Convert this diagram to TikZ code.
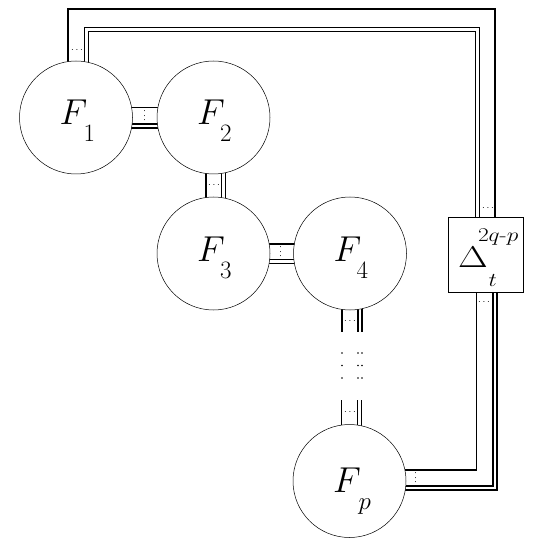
\RequirePackage{fix-cm}
\documentclass[tikz,border=0pt]{standalone}
\usepackage{graphicx}
\pgfdeclarelayer{bg}
\pgfsetlayers{bg,main}
\newcommand\flab[3]{\makebox[0pt][l]{\raisebox{-#2}[0pt][0pt]{%
  \makebox[0pt][l]{\hspace*{-16.5pt}\fontsize{36}{36}\selectfont$F$}%
  \makebox[0pt][l]{\hspace*{#3}\raisebox{-17pt}{\fontsize{25}{25}\selectfont$#1$}}}}}
\newcommand\dlab{\makebox[0pt][l]{\raisebox{-13pt}[0pt][0pt]{%
  \makebox[0pt][l]{\hspace*{-27.5pt}\scalebox{1.28}[1]{\fontsize{30}{30}\selectfont$\Delta$}}%
  \makebox[0pt][l]{\hspace*{-7.5pt}\raisebox{26.5pt}{\scalebox{1.2}[1]{\fontsize{19.5}{19.5}\selectfont$2q$-$p$}}}%
  \makebox[0pt][l]{\hspace*{3pt}\raisebox{-18.5pt}{\scalebox{1.2}[1]{\fontsize{19.5}{19.5}\selectfont$t$}}}}}}
\tikzset{
  tn/.style={circle, draw=black, line width=0.5pt, fill=white, minimum size=113pt, inner sep=0pt},
  tbox/.style={rectangle, draw=black, line width=0.6pt, fill=white, minimum size=75pt, inner sep=0pt},
  sleg/.style={line width=1.4pt},
  dleg/.style={line width=1.5pt, double=white, double distance=2.5pt},
  dotlab/.style={inner sep=0pt, font=\fontsize{10}{10}\selectfont},
  gapdot/.style={circle, fill=black, inner sep=0pt, minimum size=1.7pt},
}
\begin{document}
\begin{tikzpicture}[x=1pt,y=-1pt]
\useasboundingbox (0,0) rectangle (545,545);
\node[tn] (F1) at (76,117.5) {\flab{1}{7.5pt}{7.5pt}};
\node[tn] (F2) at (213.5,117.5) {\flab{2}{7.5pt}{6.5pt}};
\node[tn] (F3) at (213.5,253.5) {\flab{3}{8pt}{6.5pt}};
\node[tn] (F4) at (350,253.5) {\flab{4}{8pt}{6.5pt}};
\node[tn] (Fp) at (349.5,481) {\flab{p}{11pt}{9pt}};
\node[tbox] (D) at (485.5,254.5) {\dlab};
\coordinate (gT) at ([yshift=-78.5pt]F4.center);
\coordinate (gB) at ([yshift=81pt]Fp.center);
\coordinate (ts1) at (68,9);
\coordinate (ts2) at (495,9);
\coordinate (td1) at (86.5,29.5);
\coordinate (td2) at (477.5,29.5);
\coordinate (bs) at (476.5,470);
\coordinate (bd) at (495,488);
\begin{pgfonlayer}{bg}
  % F1 -- F2
  \draw[sleg] ([yshift=10pt]F1.center) -- ([yshift=10pt]F2.center);
  \draw[dleg] ([yshift=-8.5pt]F1.center) -- ([yshift=-8.5pt]F2.center);
  % F2 -- F3
  \draw[sleg] ([xshift=-7.5pt]F2.center) -- ([xshift=-7.5pt]F3.center);
  \draw[dleg] ([xshift=10pt]F2.center) -- ([xshift=10pt]F3.center);
  % F3 -- F4
  \draw[sleg] ([yshift=9.5pt]F3.center) -- ([yshift=9.5pt]F4.center);
  \draw[dleg] ([yshift=-8pt]F3.center) -- ([yshift=-8pt]F4.center);
  % F4 -- gap -- Fp
  \draw[sleg] ([xshift=-8pt]F4.center) -- ([xshift=-8pt]gT);
  \draw[dleg] ([xshift=10pt]F4.center) -- ([xshift=10pt]gT);
  \draw[sleg] ([xshift=-8pt]gB) -- ([xshift=-8pt]Fp.center);
  \draw[dleg] ([xshift=10pt]gB) -- ([xshift=10pt]Fp.center);
  % F1 -- Delta (top loop)
  \draw[sleg] ([xshift=-8pt]F1.center) -- (ts1) -- (ts2) -- ([xshift=9.5pt]D.center);
  \draw[dleg] ([xshift=10.5pt]F1.center) -- (td1) -- (td2) -- ([xshift=-8pt]D.center);
  % Delta -- Fp (bottom loop)
  \draw[sleg] ([xshift=-9pt]D.center) -- (bs) -- ([yshift=11pt]Fp.center);
  \draw[dleg] ([xshift=9.5pt]D.center) -- (bd) -- ([yshift=-7pt]Fp.center);
\end{pgfonlayer}
% index-bundle labels
\node[dotlab] (l1) at (77,50) {$\cdots$};
\node[dotlab, rotate=90] (l2) at (145,116) {$\cdots$};
\node[dotlab] (l3) at (214,185) {$\cdots$};
\node[dotlab, rotate=90] (l4) at (281,252) {$\cdots$};
\node[dotlab] (l5) at (350,321) {$\cdots$};
\node[dotlab] (l6) at (350,412) {$\cdots$};
\node[dotlab] (l7) at (488,208) {$\cdots$};
\node[dotlab] (l8) at (484,302) {$\cdots$};
\node[dotlab, rotate=90] (l9) at (416,478) {$\cdots$};
% continuation dots
\foreach \yy in {353,365.5,378}{
  \node[gapdot] at (342,\yy) {};
  \node[gapdot] at (358,\yy) {};
  \node[gapdot] at (362,\yy) {};
}
\end{tikzpicture}
\end{document}
